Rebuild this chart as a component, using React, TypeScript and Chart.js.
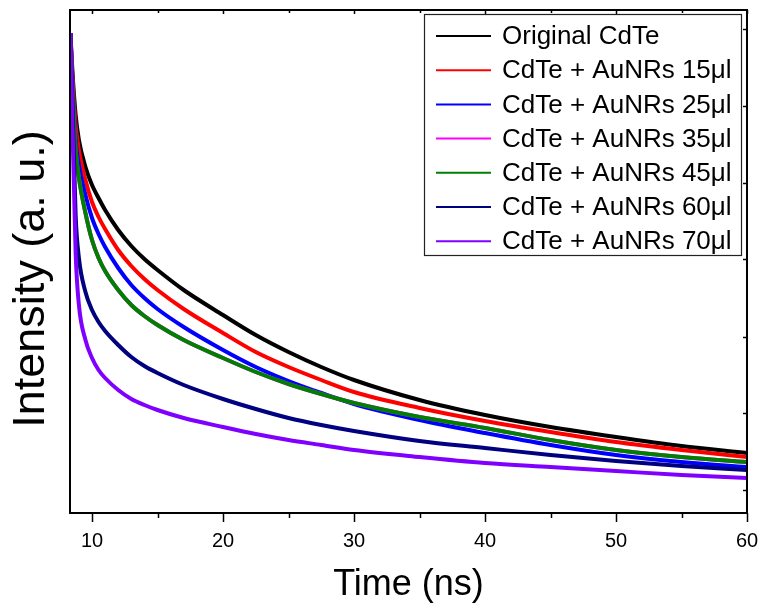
import React, { useEffect, useRef } from 'react';
import { Chart, registerables } from 'chart.js';

Chart.register(...registerables);

// Time axis (ns)
const TIME_NS = [8.35, 8.5, 8.75, 9, 9.5, 10, 10.5, 11, 12, 13, 14, 15, 17, 20, 22.5, 25, 27.5, 30, 35, 40, 45, 50, 55, 60];

// Intensity (a. u.)
const ORIGINAL = [480, 443, 398, 373, 346, 328, 315, 303, 283, 267, 254, 243, 223, 198, 178, 161, 146, 133, 113, 98, 86, 76, 67, 60];
const AU_15 = [480, 438, 388, 363, 333, 311, 296, 284, 263, 247, 234, 223, 204, 180, 161, 146, 133, 121, 105, 92, 81, 71, 63, 56];
const AU_25 = [480, 433, 373, 348, 318, 295, 279, 266, 245, 228, 215, 204, 186, 163, 146, 132, 120, 109, 93, 80, 68, 58, 51, 46];
const AU_35 = [480, 428, 363, 335, 300, 273, 255, 242, 223, 208, 197, 188, 173, 155, 141, 129, 119, 110, 96, 85, 73, 63, 56, 51];
const AU_45 = [480, 428, 363, 335, 300, 273, 255, 242, 223, 208, 197, 188, 173, 155, 141, 129, 119, 110, 96, 85, 73, 63, 56, 51];
const AU_60 = [480, 413, 298, 255, 221, 203, 191, 182, 168, 156, 147, 140, 128, 114, 104, 95, 88, 82, 72, 65, 58, 52, 47, 43];
const AU_70 = [480, 393, 260, 208, 173, 155, 143, 135, 123, 114, 108, 103, 95, 86, 79, 73, 68, 63, 56, 50, 46, 42, 38, 35];

const SERIES_LABELS = [
  'Original CdTe',
  'CdTe + AuNRs 15μl',
  'CdTe + AuNRs 25μl',
  'CdTe + AuNRs 35μl',
  'CdTe + AuNRs 45μl',
  'CdTe + AuNRs 60μl',
  'CdTe + AuNRs 70μl',
];
const SERIES_VALUES = [ORIGINAL, AU_15, AU_25, AU_35, AU_45, AU_60, AU_70];
const SERIES_COLORS = ['#000000', '#ff0000', '#0000ff', '#ff00ff', '#008000', '#000080', '#8000ff'];

const X_MIN = 8.32;
const X_MAX = 60;
const Y_MIN = 0;
const Y_MAX = 503;
const X_TICKS = [10, 20, 30, 40, 50, 60];
const X_MINOR_TICKS = [15, 25, 35, 45, 55];
const Y_RIGHT_TICKS = [484, 407, 330, 254, 176, 100, 23];

const FONT = "'Liberation Sans', Arial, Helvetica, sans-serif";

const framePlugin = {
  id: 'originFrame',
  afterDatasetsDraw(chart: any) {
    const { ctx, chartArea, scales } = chart;
    const { left, right, top, bottom } = chartArea;
    const x = scales.x;
    const y = scales.y;
    ctx.save();
    ctx.strokeStyle = '#000';
    ctx.lineWidth = 2;
    ctx.strokeRect(left, top, right - left, bottom - top);

    ctx.lineWidth = 1.5;
    const seg = (x1: number, y1: number, x2: number, y2: number) => {
      ctx.beginPath();
      ctx.moveTo(x1, y1);
      ctx.lineTo(x2, y2);
      ctx.stroke();
    };
    X_TICKS.forEach((v) => {
      const px = Math.round(x.getPixelForValue(v)) + 0.5;
      seg(px, bottom, px, bottom + 9);
      seg(px, top, px, top + 4);
    });
    X_MINOR_TICKS.forEach((v) => {
      const px = Math.round(x.getPixelForValue(v)) + 0.5;
      seg(px, bottom, px, bottom + 5);
      seg(px, top, px, top + 3);
    });
    Y_RIGHT_TICKS.forEach((v) => {
      const py = Math.round(y.getPixelForValue(v)) + 0.5;
      seg(right, py, right - 4, py);
    });

    // Legend
    const bx = 424, by = 14, bw = 317, bh = 241;
    ctx.fillStyle = '#fff';
    ctx.fillRect(bx, by, bw, bh);
    ctx.lineWidth = 1.2;
    ctx.strokeStyle = '#222';
    ctx.strokeRect(bx + 0.5, by + 0.5, bw, bh);
    ctx.font = `26px ${FONT}`;
    ctx.textBaseline = 'middle';
    ctx.textAlign = 'left';
    SERIES_LABELS.forEach((label, i) => {
      const cy = 36 + i * 34.2;
      ctx.strokeStyle = SERIES_COLORS[i];
      ctx.lineWidth = 2;
      seg(436, cy, 491, cy);
      ctx.fillStyle = '#000';
      ctx.fillText(label, 502, cy + 1);
    });

    // Y title
    ctx.save();
    ctx.translate(32, 279);
    ctx.rotate(-Math.PI / 2);
    ctx.font = `45px ${FONT}`;
    ctx.textAlign = 'center';
    ctx.textBaseline = 'middle';
    ctx.fillStyle = '#000';
    ctx.fillText('Intensity (a. u.)', 0, 0);
    ctx.restore();

    ctx.restore();
  },
};

export default function App() {
  const canvasRef = useRef<HTMLCanvasElement | null>(null);

  useEffect(() => {
    if (!canvasRef.current) return;
    const n = SERIES_VALUES.length;
    const datasets = SERIES_VALUES.map((vals, i) => ({
      label: SERIES_LABELS[i],
      data: TIME_NS.map((t, k) => ({ x: t, y: vals[k] })),
      borderColor: SERIES_COLORS[i],
      backgroundColor: SERIES_COLORS[i],
      borderWidth: 4,
      pointRadius: 0,
      cubicInterpolationMode: 'monotone' as const,
      fill: false,
      order: n - i,
    }));
    const chart = new Chart(canvasRef.current, {
      type: 'line',
      data: { datasets },
      options: {
        animation: false,
        responsive: true,
        maintainAspectRatio: false,
        layout: { padding: { left: 70, right: 14, top: 10, bottom: 0 } },
        plugins: {
          legend: { display: false },
          tooltip: { enabled: false },
        },
        scales: {
          x: {
            type: 'linear',
            min: X_MIN,
            max: X_MAX,
            grid: { display: false },
            border: { display: false },
            afterBuildTicks: (scale: any) => {
              scale.ticks = X_TICKS.map((v) => ({ value: v }));
            },
            afterFit: (scale: any) => {
              scale.height = 97;
              scale.paddingLeft = 0;
              scale.paddingRight = 0;
            },
            ticks: {
              autoSkip: false,
              maxRotation: 0,
              padding: 8,
              color: '#000',
              font: { family: FONT, size: 20 },
              callback: (v: any) => String(v),
            },
            title: {
              display: true,
              text: 'Time (ns)',
              color: '#000',
              font: { family: FONT, size: 36 },
              padding: { top: 0, bottom: 3 },
            },
          },
          y: {
            type: 'linear',
            display: false,
            min: Y_MIN,
            max: Y_MAX,
          },
        },
      },
      plugins: [framePlugin],
    });
    return () => chart.destroy();
  }, []);

  return (
    <div style={{ position: 'fixed', left: 0, top: 0, width: 761, height: 610, background: '#fff' }}>
      <canvas ref={canvasRef} />
    </div>
  );
}
